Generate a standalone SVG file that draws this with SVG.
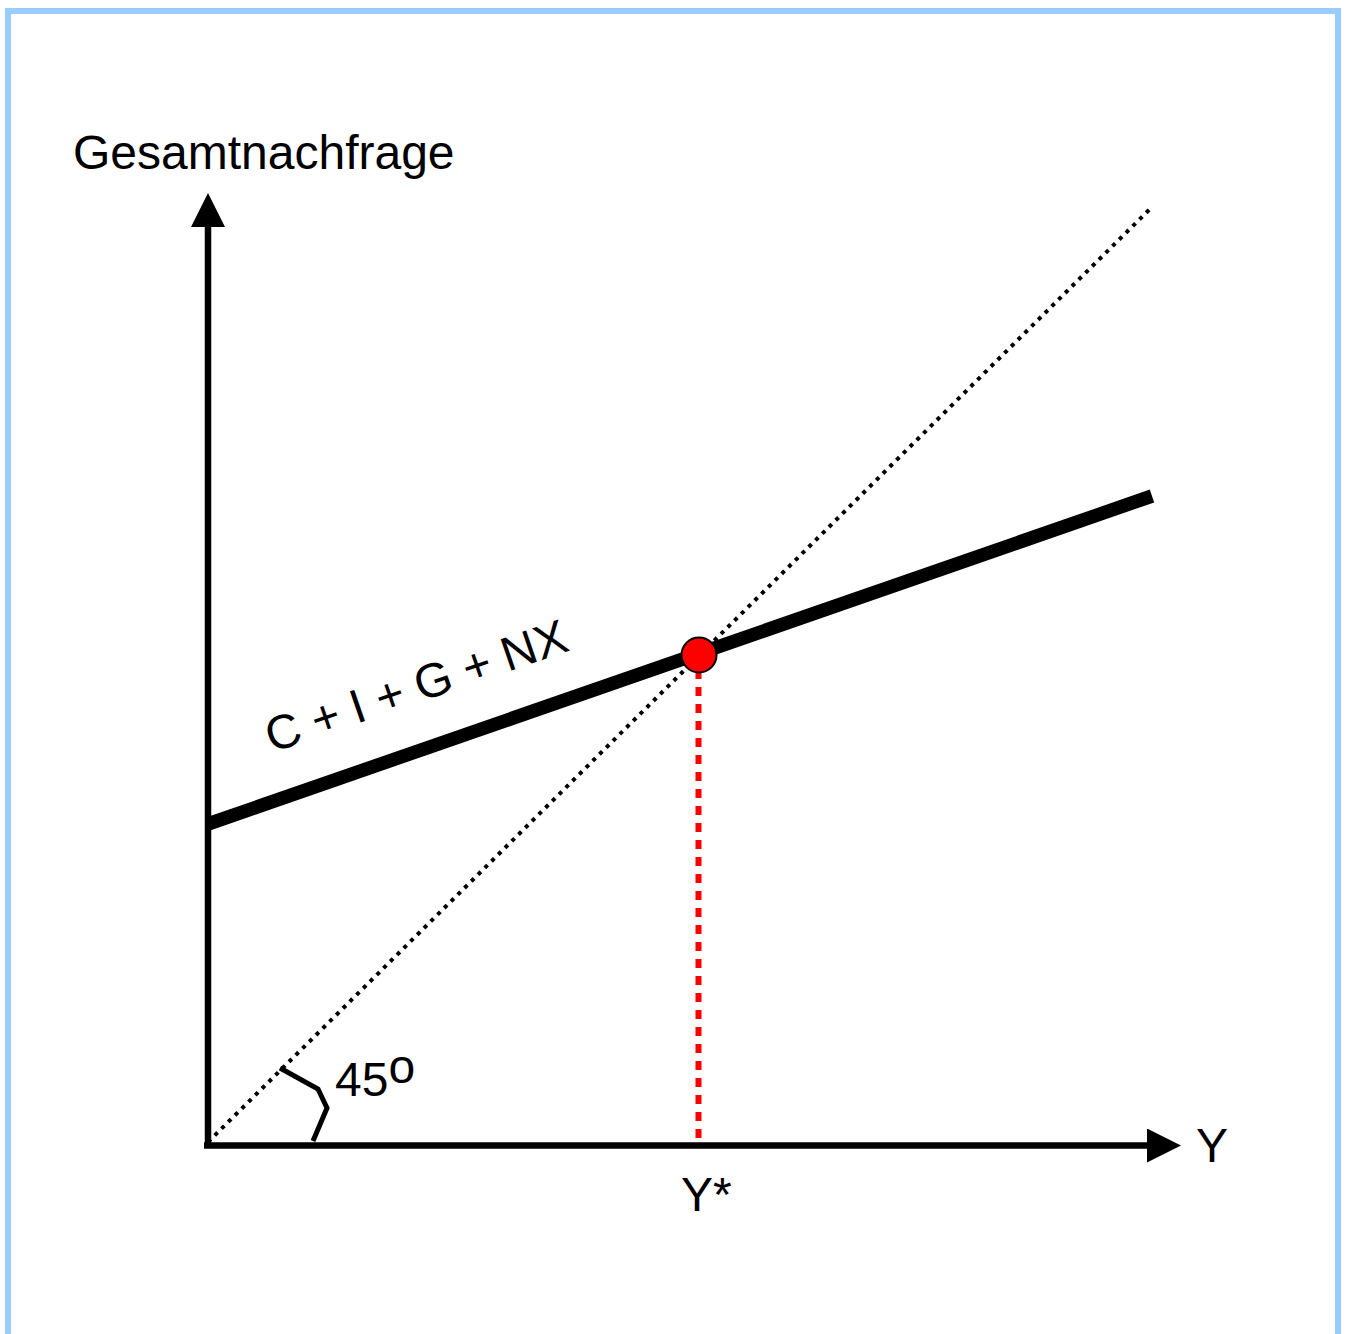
<svg xmlns="http://www.w3.org/2000/svg" width="1346" height="1334" viewBox="0 0 1346 1334">
<style>
text{font-family:"Liberation Sans",Arial,sans-serif;font-size:48px;fill:#000}
.axis{stroke:#000;stroke-width:6.5;fill:none}
</style>
<defs>
<marker id="ah" markerUnits="userSpaceOnUse" markerWidth="34" markerHeight="34" refX="0" refY="17" orient="auto" viewBox="0 0 34 34">
<path d="M0,0 L34,17 L0,34 Z" fill="#000"/>
</marker>
</defs>
<rect x="0" y="0" width="1346" height="1334" fill="#fff"/>
<rect x="8" y="11" width="1330" height="1340" fill="none" stroke="#99CCFF" stroke-width="6"/>
<g id="connectors">
<line id="y-axis" class="axis" x1="208" y1="1148" x2="208" y2="227" marker-end="url(#ah)"/>
<line id="x-axis" class="axis" x1="204" y1="1145.5" x2="1147" y2="1145.5" marker-end="url(#ah)"/>
<line id="diag45" x1="208" y1="1142" x2="1151" y2="208" stroke="#000" stroke-width="4" stroke-dasharray="4 5.5"/>
<line id="ae-line" x1="208" y1="824" x2="1152" y2="496" stroke="#000" stroke-width="13.5"/>
<line id="ystar-line" x1="698.5" y1="670" x2="698.5" y2="1140" stroke="#FF0000" stroke-width="6" stroke-dasharray="9 8"/>
<polyline id="angle-mark" points="280,1068 318,1089 327,1108 313,1141" fill="none" stroke="#000" stroke-width="5"/>
</g>
<g id="equilibrium">
<circle cx="699" cy="655" r="17.5" fill="#FF0000" stroke="#000" stroke-width="2"/>
</g>
<g id="labels">
<text id="label-ad" x="73" y="169">Gesamtnachfrage</text>
<text id="label-y" x="1196" y="1162">Y</text>
<text id="label-ystar" x="681" y="1211">Y*</text>
<text id="label-45" x="335" y="1096">45<tspan dy="-13">o</tspan></text>
<text id="label-cignx" transform="translate(272,753) rotate(-19)">C + I + G + NX</text>
</g>
</svg>
